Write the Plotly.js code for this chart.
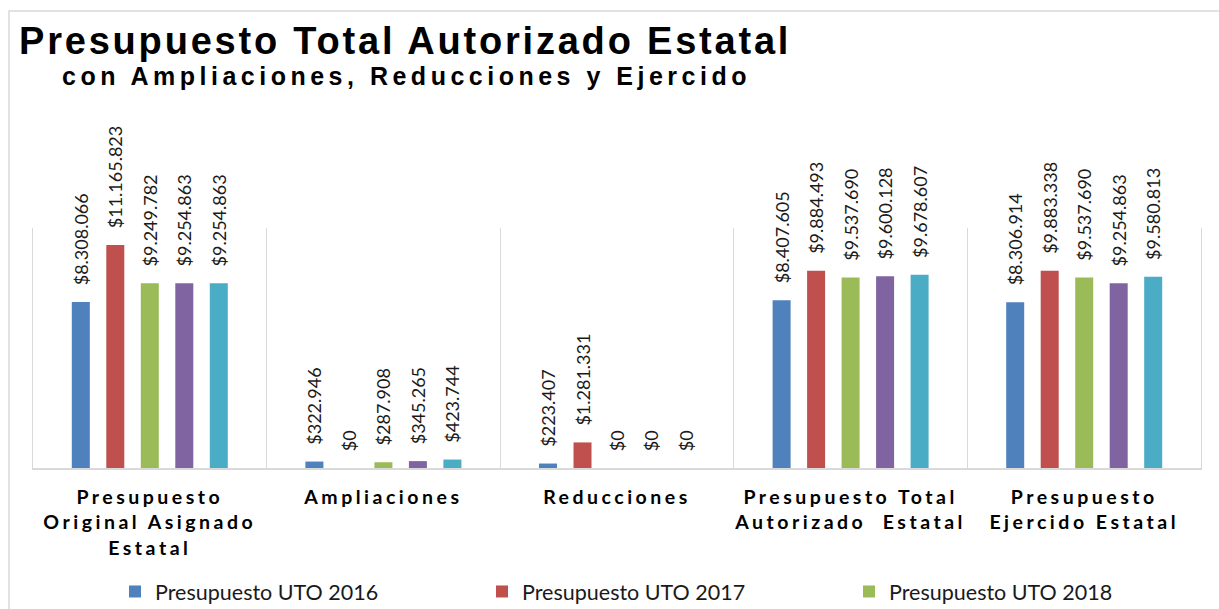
<!DOCTYPE html>
<html><head><meta charset="utf-8">
<script src="https://cdn.plot.ly/plotly-3.0.1.min.js"></script>
<style>
html,body{margin:0;padding:0;background:#fff;}
#chart{width:1219px;height:609px;}
.xtick text{letter-spacing:3.5px;}
</style></head><body><div id="chart"></div>
<script>
const categories = ["Presupuesto Original Asignado Estatal","Ampliaciones","Reducciones","Presupuesto Total Autorizado Estatal","Presupuesto Ejercido Estatal"];
const tickLabels = ["Presupuesto<br>Original Asignado<br>Estatal","Ampliaciones","Reducciones","Presupuesto Total<br>Autorizado  Estatal","Presupuesto<br>Ejercido Estatal"];
const seriesNames = ["Presupuesto UTO 2016","Presupuesto UTO 2017","Presupuesto UTO 2018","Presupuesto UTO 2019","Presupuesto UTO 2020"];
const uto2016 = [8308066, 322946, 223407, 8407605, 8306914];
const uto2017 = [11165823, 0, 1281331, 9884493, 9883338];
const uto2018 = [9249782, 287908, 0, 9537690, 9537690];
const uto2019 = [9254863, 345265, 0, 9600128, 9254863];
const uto2020 = [9254863, 423744, 0, 9678607, 9580813];
const seriesValues = [uto2016, uto2017, uto2018, uto2019, uto2020];
const colors = ["#4F81BD","#C0504D","#9BBB59","#8064A2","#4BACC6"];
const titleText = "Presupuesto Total Autorizado Estatal";
const subtitleText = "con Ampliaciones, Reducciones y Ejercido";

const W = 1219, H = 609;
const mL = 33, mR = 18, mT = 228, mB = 141;
const pw = W - mL - mR, ph = H - mT - mB;
const px = x => (x - mL) / pw;
const py = y => (H - mB - y) / ph;

const traces = seriesValues.map((vals, i) => ({
  type: 'bar',
  name: seriesNames[i],
  x: categories,
  y: vals,
  marker: {color: colors[i], line: {width: 0}},
  texttemplate: '\u00A0\u00A0\u00A0$%{y:,.0f}',
  textposition: 'outside',
  textangle: -90,
  constraintext: 'none',
  cliponaxis: false,
  textfont: {family: 'Lato', size: 18, color: '#1a1a1a'},
  hoverinfo: 'none'
}));

const layout = {
  width: W, height: H,
  margin: {l: mL, r: mR, t: mT, b: mB, autoexpand: false},
  paper_bgcolor: '#fff', plot_bgcolor: '#fff',
  separators: ',.',
  barmode: 'group',
  bargap: 0.2616,
  bargroupgap: 0.478,
  showlegend: true,
  legend: {
    orientation: 'h', x: px(115), y: py(571), xanchor: 'left', yanchor: 'top',
    font: {family: 'Lato', size: 21.5, color: '#1a1a1a'},
    entrywidth: 322, entrywidthmode: 'pixels',
    bgcolor: 'rgba(0,0,0,0)'
  },
  xaxis: {
    type: 'category',
    tickvals: categories, ticktext: tickLabels,
    tickson: 'boundaries', ticks: '',
    showgrid: true, gridcolor: '#d9d9d9', gridwidth: 1,
    showline: true, linecolor: '#d9d9d9', linewidth: 1.5,
    tickfont: {family: 'Lato', size: 19.5, color: '#000', weight: 'bold'},
    ticklabelstandoff: 11,
    fixedrange: true
  },
  yaxis: {
    range: [0, 12020000],
    showticklabels: false, showgrid: false, zeroline: false,
    showline: true, mirror: true, linecolor: '#d9d9d9', linewidth: 1,
    ticks: '', fixedrange: true
  },
  shapes: [{
    type: 'rect', xref: 'paper', yref: 'paper',
    x0: px(9), x1: px(1230), y0: py(620), y1: py(11),
    line: {color: '#d9d9d9', width: 1.5}, fillcolor: 'rgba(0,0,0,0)', layer: 'below'
  }],
  annotations: [
    {xref: 'paper', yref: 'paper', x: px(405), y: py(41), xanchor: 'center', yanchor: 'middle', showarrow: false,
     text: '<span style="letter-spacing:2.8px">' + titleText + '</span>',
     font: {family: 'Liberation Sans', size: 38, color: '#000', weight: 'bold'}},
    {xref: 'paper', yref: 'paper', x: px(406), y: py(76), xanchor: 'center', yanchor: 'middle', showarrow: false,
     text: '<span style="letter-spacing:4.5px">' + subtitleText + '</span>',
     font: {family: 'Liberation Sans', size: 25, color: '#000', weight: 'bold'}}
  ]
};

Plotly.newPlot('chart', traces, layout, {displayModeBar: false, staticPlot: true});
</script></body></html>
